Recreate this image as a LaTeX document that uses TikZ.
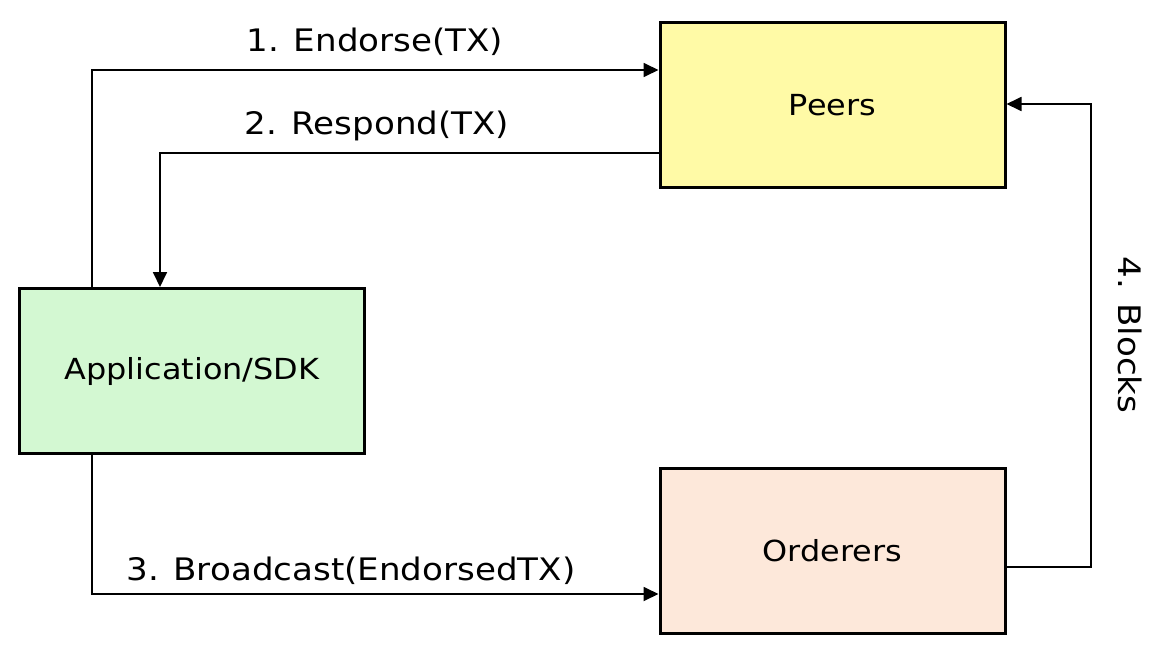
\documentclass[tikz,border=0pt]{standalone}
\usepackage{fontspec}
\setmainfont[FakeStretch=1.1]{DejaVu Sans}
\usetikzlibrary{arrows.meta}
\definecolor{peerc}{HTML}{FFFAA6}
\definecolor{appc}{HTML}{D3F8D2}
\definecolor{ordc}{HTML}{FDE8DA}
\begin{document}
\begin{tikzpicture}[x=1pt,y=-1pt,
  box/.style={draw=black,line width=3pt,minimum width=345pt,minimum height=165pt,inner sep=0pt,font=\fontsize{29}{35}\selectfont},
  conn/.style={line width=1.8pt,-{Triangle[length=15pt,width=14pt]}},
  lbl/.style={font=\fontsize{31}{37}\selectfont,inner sep=0pt}]
\useasboundingbox (0,0) rectangle (1164,664);
\node[box,fill=peerc] (peers) at (832.5,105) {Peers};
\node[box,fill=appc] (app) at (192,371) {Application/SDK};
\node[box,fill=ordc] (ord) at (832.5,550.5) {Orderers};
\coordinate (e1) at (92,70);
\coordinate (r1) at (160,153);
\coordinate (b1) at (92,594);
\coordinate (k1) at (1091,567);
\coordinate (k2) at (1091,104);
\draw[conn] (app.north -| e1) -- (e1) -- (peers.west |- e1);
\draw[conn] (peers.west |- r1) -- (r1) -- (app.north -| r1);
\draw[conn] (app.south -| b1) -- (b1) -- (ord.west |- b1);
\draw[conn] (ord.east |- k1) -- (k1) -- (k2) -- (peers.east |- k2);
\node[lbl] (l1) at (375,42) {1. Endorse(TX)};
\node[lbl] (l2) at (377,126) {2. Respond(TX)};
\node[lbl] (l3) at (351,571) {3. Broadcast(EndorsedTX)};
\node[lbl,rotate=-90] (l4) at (1130,335) {4. Blocks};
\end{tikzpicture}
\end{document}
